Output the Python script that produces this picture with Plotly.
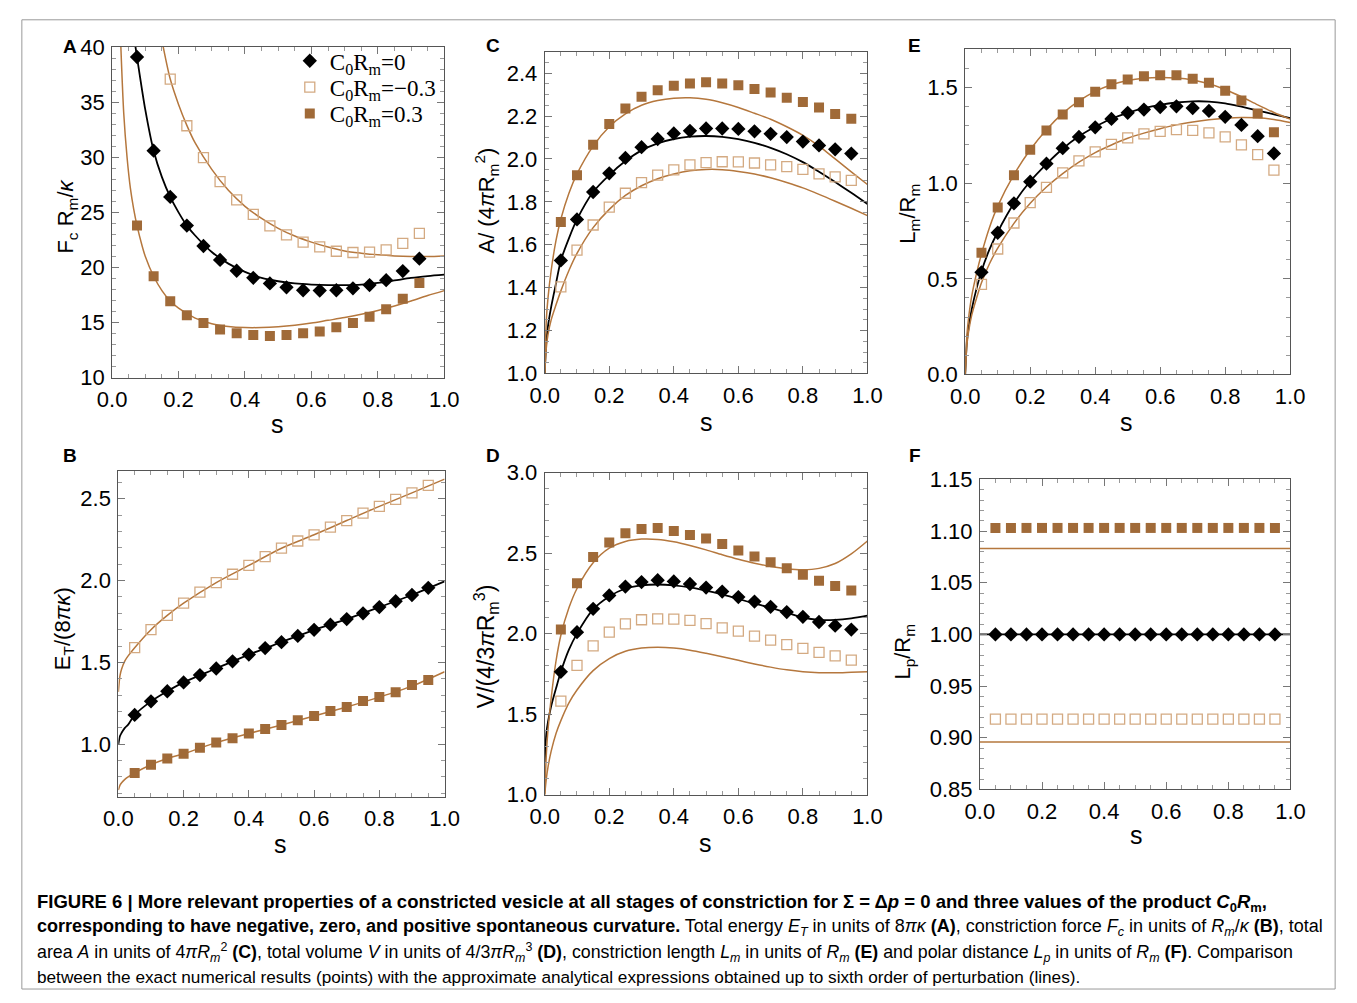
import plotly.graph_objects as go

W, H = 1357, 1003

# ---------------- data ----------------
S19 = [0.05, 0.10, 0.15, 0.20, 0.25, 0.30, 0.35, 0.40, 0.45, 0.50,
       0.55, 0.60, 0.65, 0.70, 0.75, 0.80, 0.85, 0.90, 0.95]
S18 = [0.075, 0.125, 0.175, 0.225, 0.275, 0.325, 0.375, 0.425, 0.475,
       0.525, 0.575, 0.625, 0.675, 0.725, 0.775, 0.825, 0.875, 0.925]

# Panel A : constriction force
A_zero_pts = [39.1, 30.6, 26.4, 23.8, 21.95, 20.68, 19.7, 19.06, 18.55,
              18.2, 17.93, 17.9, 17.93, 18.11, 18.4, 18.85, 19.67, 20.8]
A_neg_s = [0.175, 0.225, 0.275, 0.325, 0.375, 0.425, 0.475, 0.525,
           0.575, 0.625, 0.675, 0.725, 0.775, 0.825, 0.875, 0.925]
A_neg_pts = [37.1, 32.86, 29.97, 27.79, 26.14, 24.81, 23.78, 22.95,
             22.3, 21.86, 21.47, 21.36, 21.39, 21.6, 22.18, 23.1]
A_pos_pts = [23.8, 19.2, 16.93, 15.66, 14.96, 14.37, 14.04, 13.86, 13.78,
             13.86, 14.04, 14.19, 14.57, 14.96, 15.52, 16.2, 17.17, 18.58]

A_zero_ls = [0.068, 0.075, 0.1, 0.125, 0.15, 0.175, 0.2, 0.225, 0.25, 0.3, 0.35,
             0.4, 0.45, 0.5, 0.55, 0.6, 0.65, 0.7, 0.75, 0.8, 0.85, 0.9, 0.95, 1.0]
A_zero_lv = [40.5, 39.1, 34.3, 30.6, 28.2, 26.4, 25.0, 23.8, 22.9, 21.4, 20.35,
             19.6, 19.05, 18.75, 18.55, 18.45, 18.4, 18.4, 18.45, 18.6, 18.82,
             19.05, 19.22, 19.35]
A_neg_ls = [0.152, 0.175, 0.2, 0.225, 0.25, 0.3, 0.35, 0.4, 0.45, 0.5, 0.55,
            0.6, 0.65, 0.7, 0.75, 0.8, 0.85, 0.9, 0.95, 1.0]
A_neg_lv = [40.3, 37.1, 34.8, 32.9, 31.3, 28.9, 27.0, 25.55, 24.45, 23.55,
            22.85, 22.3, 21.85, 21.5, 21.3, 21.15, 21.05, 21.0, 21.0, 21.05]
A_pos_ls = [0.026, 0.035, 0.045, 0.055, 0.065, 0.075, 0.09, 0.1, 0.125, 0.15,
            0.175, 0.2, 0.25, 0.3, 0.35, 0.4, 0.45, 0.5, 0.55, 0.6, 0.65, 0.7,
            0.75, 0.8, 0.85, 0.9, 0.95, 1.0]
A_pos_lv = [40.3, 34.0, 30.0, 27.2, 25.3, 23.8, 22.0, 21.0, 19.2, 17.9,
            16.95, 16.3, 15.4, 14.9, 14.65, 14.55, 14.55, 14.62, 14.75, 14.95,
            15.2, 15.45, 15.75, 16.1, 16.5, 16.95, 17.45, 17.9]

# Panel B : total energy
B_zero_pts = [1.179, 1.262, 1.324, 1.378, 1.423, 1.463, 1.507, 1.548, 1.588,
              1.624, 1.662, 1.699, 1.731, 1.765, 1.8, 1.838, 1.874, 1.912, 1.956]
B_neg_pts = [1.59, 1.701, 1.787, 1.862, 1.93, 1.988, 2.039, 2.093, 2.146,
             2.198, 2.242, 2.28, 2.327, 2.367, 2.413, 2.454, 2.496, 2.536, 2.582]
B_pos_pts = [0.825, 0.875, 0.913, 0.942, 0.978, 1.01, 1.036, 1.066, 1.093,
             1.117, 1.147, 1.173, 1.203, 1.228, 1.264, 1.288, 1.318, 1.362, 1.393]
B_ls = [0.0, 0.005, 0.01, 0.02, 0.03, 0.05, 0.1, 0.15, 0.2, 0.3, 0.4, 0.5,
        0.6, 0.7, 0.8, 0.9, 1.0]
B_zero_lv = [1.0, 1.05, 1.07, 1.1, 1.12, 1.179, 1.262, 1.324, 1.378, 1.463,
             1.548, 1.624, 1.699, 1.765, 1.838, 1.912, 1.995]
B_neg_lv = [1.32, 1.42, 1.46, 1.51, 1.54, 1.59, 1.70, 1.787, 1.862, 1.988,
            2.093, 2.198, 2.28, 2.367, 2.454, 2.536, 2.62]
B_pos_lv = [0.72, 0.75, 0.765, 0.785, 0.80, 0.825, 0.875, 0.913, 0.942, 1.01,
            1.066, 1.117, 1.173, 1.228, 1.288, 1.355, 1.443]

# Panel C : total area
C_zero_pts = [1.527, 1.718, 1.846, 1.933, 2.005, 2.055, 2.093, 2.119, 2.131,
              2.142, 2.142, 2.14, 2.129, 2.117, 2.102, 2.081, 2.063, 2.045, 2.025]
C_neg_pts = [1.404, 1.575, 1.692, 1.775, 1.84, 1.89, 1.925, 1.949, 1.972,
             1.983, 1.987, 1.986, 1.981, 1.972, 1.964, 1.951, 1.93, 1.916, 1.9]
C_pos_pts = [1.706, 1.924, 2.066, 2.163, 2.235, 2.29, 2.32, 2.341, 2.352,
             2.357, 2.352, 2.343, 2.326, 2.31, 2.285, 2.266, 2.24, 2.21, 2.187]
CDE_ls = [0.0, 0.005, 0.01, 0.02, 0.035, 0.05, 0.075, 0.1, 0.15, 0.2, 0.25,
          0.3, 0.35, 0.4, 0.45, 0.5, 0.55, 0.6, 0.65, 0.7, 0.75, 0.8, 0.85,
          0.9, 0.95, 1.0]
C_pos_lv = [1.0, 1.25, 1.35, 1.48, 1.62, 1.72, 1.84, 1.93, 2.06, 2.15, 2.21,
            2.25, 2.272, 2.283, 2.285, 2.278, 2.262, 2.24, 2.213, 2.185, 2.15,
            2.11, 2.06, 2.0, 1.94, 1.881]
C_zero_lv = [1.0, 1.15, 1.22, 1.31, 1.42, 1.527, 1.63, 1.718, 1.846, 1.925,
             1.99, 2.04, 2.073, 2.093, 2.104, 2.107, 2.103, 2.092, 2.075, 2.052,
             2.022, 1.985, 1.94, 1.892, 1.842, 1.79]
C_neg_lv = [1.0, 1.12, 1.18, 1.25, 1.32, 1.385, 1.48, 1.56, 1.68, 1.765, 1.83,
            1.875, 1.908, 1.93, 1.945, 1.951, 1.95, 1.942, 1.93, 1.912, 1.89,
            1.865, 1.835, 1.803, 1.77, 1.736]

# Panel D : total volume
D_zero_pts = [1.763, 2.009, 2.154, 2.237, 2.292, 2.32, 2.332, 2.324, 2.308,
              2.286, 2.261, 2.227, 2.199, 2.166, 2.134, 2.104, 2.072, 2.049, 2.025]
D_neg_pts = [1.581, 1.803, 1.924, 2.009, 2.06, 2.086, 2.092, 2.09, 2.082,
             2.062, 2.035, 2.015, 1.985, 1.959, 1.932, 1.908, 1.884, 1.862, 1.836]
D_pos_pts = [2.025, 2.312, 2.475, 2.566, 2.623, 2.649, 2.655, 2.637, 2.612,
             2.59, 2.556, 2.516, 2.479, 2.443, 2.405, 2.366, 2.328, 2.296, 2.267]
D_pos_lv = [1.0, 1.25, 1.4, 1.6, 1.83, 1.99, 2.16, 2.28, 2.44, 2.53, 2.572,
            2.587, 2.585, 2.57, 2.547, 2.52, 2.49, 2.462, 2.437, 2.417, 2.403,
            2.397, 2.405, 2.435, 2.495, 2.575]
D_zero_lv = [1.2, 1.38, 1.45, 1.55, 1.66, 1.763, 1.9, 2.0, 2.15, 2.23, 2.28,
             2.30, 2.305, 2.30, 2.287, 2.267, 2.243, 2.215, 2.187, 2.16, 2.13,
             2.1, 2.085, 2.085, 2.095, 2.112]
D_neg_lv = [1.0, 1.1, 1.17, 1.27, 1.38, 1.46, 1.57, 1.65, 1.77, 1.845, 1.89,
            1.91, 1.915, 1.91, 1.897, 1.878, 1.857, 1.834, 1.812, 1.792, 1.775,
            1.763, 1.757, 1.757, 1.76, 1.763]

# Panel E : constriction length
E_zero_pts = [0.534, 0.741, 0.895, 1.008, 1.102, 1.183, 1.242, 1.292, 1.336,
              1.368, 1.385, 1.398, 1.402, 1.393, 1.378, 1.347, 1.305, 1.246, 1.156]
E_neg_pts = [0.471, 0.656, 0.792, 0.898, 0.978, 1.054, 1.117, 1.164, 1.203,
             1.237, 1.258, 1.271, 1.28, 1.276, 1.263, 1.242, 1.2, 1.149, 1.068]
E_pos_pts = [0.636, 0.873, 1.042, 1.175, 1.276, 1.359, 1.424, 1.478, 1.517,
             1.542, 1.559, 1.564, 1.564, 1.546, 1.525, 1.483, 1.432, 1.364, 1.266]
E_pos_lv = [0.0, 0.2, 0.29, 0.41, 0.53, 0.63, 0.77, 0.88, 1.045, 1.175, 1.28,
            1.365, 1.43, 1.48, 1.515, 1.537, 1.549, 1.553, 1.55, 1.54, 1.52,
            1.49, 1.452, 1.41, 1.37, 1.335]
E_zero_lv = [0.0, 0.17, 0.24, 0.34, 0.45, 0.54, 0.655, 0.745, 0.895, 1.01,
             1.1, 1.18, 1.245, 1.295, 1.337, 1.368, 1.392, 1.41, 1.422, 1.428,
             1.427, 1.418, 1.4, 1.38, 1.36, 1.34]
E_neg_lv = [0.0, 0.15, 0.22, 0.31, 0.4, 0.48, 0.58, 0.66, 0.79, 0.895, 0.98,
            1.05, 1.11, 1.16, 1.2, 1.235, 1.262, 1.285, 1.305, 1.32, 1.332,
            1.34, 1.344, 1.342, 1.333, 1.317]

# Panel F : polar distance
F_zero_pts = [1.0] * 19
F_neg_pts = [0.918] * 19
F_pos_pts = [1.103] * 19
F_ls = [0.0, 1.0]
F_zero_lv = [1.0, 1.0]
F_neg_lv = [0.896, 0.896]
F_pos_lv = [1.083, 1.083]

# ---------------- styling ----------------
BLACK = "#000000"
LINE_BROWN = "#B5773D"
FILL_BROWN = "#A06A38"
OPEN_TAN = "#D4AA82"
FONT = "Liberation Sans, Arial, sans-serif"
SERIF = "Liberation Serif, Times New Roman, serif"

# plot area boxes in pixels: (left, right, top, bottom)
BOX = {
    1: (99.3, 439.0, 36.0, 375.0),      # A
    2: (105.7, 439.3, 470.7, 805.0),    # B
    3: (541.7, 871.7, 40.7, 370.7),     # C
    4: (541.7, 871.7, 472.3, 802.7),    # D
    5: (971.7, 1304.0, 38.3, 371.7),    # E
    6: (986.7, 1304.3, 479.3, 797.3),   # F
}
YRANGE = {1: [10, 40], 2: [0.678, 2.67], 3: [1.0, 2.5], 4: [1.0, 3.0],
          5: [0.0, 1.7], 6: [0.85, 1.15]}
YTICK = {1: (10, 5, 1, ".0f"), 2: (1.0, 0.5, 0.1, ".1f"), 3: (1.0, 0.2, 0.05, ".1f"),
         4: (1.0, 0.5, 0.1, ".1f"), 5: (0.0, 0.5, 0.1, ".1f"), 6: (0.85, 0.05, 0.01, ".2f")}

fig = go.Figure()


def ax(i):
    return ("x" if i == 1 else f"x{i}"), ("y" if i == 1 else f"y{i}")


def add_line(i, s, v, color, width):
    xa, ya = ax(i)
    fig.add_trace(go.Scatter(x=s, y=v, mode="lines", xaxis=xa, yaxis=ya,
                             line=dict(color=color, width=width, shape="spline",
                                       smoothing=0.8),
                             showlegend=False, hoverinfo="skip"))


def add_pts(i, s, v, kind, legend=None):
    xa, ya = ax(i)
    if kind == "zero":
        mk = dict(symbol="diamond", size=11, color=BLACK)
        name = "C<sub>0</sub>R<sub>m</sub>=0"
    elif kind == "neg":
        mk = dict(symbol="square-open", size=10, color=OPEN_TAN,
                  line=dict(color=OPEN_TAN, width=1.3))
        name = "C<sub>0</sub>R<sub>m</sub>=\u22120.3"
    else:
        mk = dict(symbol="square", size=10, color=FILL_BROWN)
        name = "C<sub>0</sub>R<sub>m</sub>=0.3"
    kw = dict(showlegend=False)
    if legend:
        kw = dict(showlegend=True, legend=legend)
    fig.add_trace(go.Scatter(x=s, y=v, mode="markers", xaxis=xa, yaxis=ya,
                             marker=mk, name=name, **kw))


# lines
add_line(1, A_zero_ls, A_zero_lv, BLACK, 1.8)
add_line(1, A_neg_ls, A_neg_lv, LINE_BROWN, 1.5)
add_line(1, A_pos_ls, A_pos_lv, LINE_BROWN, 1.5)
add_line(2, B_ls, B_zero_lv, BLACK, 1.8)
add_line(2, B_ls, B_neg_lv, LINE_BROWN, 1.5)
add_line(2, B_ls, B_pos_lv, LINE_BROWN, 1.5)
add_line(3, CDE_ls, C_zero_lv, BLACK, 1.8)
add_line(3, CDE_ls, C_neg_lv, LINE_BROWN, 1.5)
add_line(3, CDE_ls, C_pos_lv, LINE_BROWN, 1.5)
add_line(4, CDE_ls, D_zero_lv, BLACK, 1.8)
add_line(4, CDE_ls, D_neg_lv, LINE_BROWN, 1.5)
add_line(4, CDE_ls, D_pos_lv, LINE_BROWN, 1.5)
add_line(5, CDE_ls, E_zero_lv, BLACK, 1.8)
add_line(5, CDE_ls, E_neg_lv, LINE_BROWN, 1.5)
add_line(5, CDE_ls, E_pos_lv, LINE_BROWN, 1.5)
add_line(6, F_ls, F_zero_lv, BLACK, 1.8)
add_line(6, F_ls, F_neg_lv, LINE_BROWN, 1.5)
add_line(6, F_ls, F_pos_lv, LINE_BROWN, 1.5)

# points
add_pts(1, S18, A_zero_pts, "zero", legend="legend")
add_pts(1, A_neg_s, A_neg_pts, "neg", legend="legend2")
add_pts(1, S18, A_pos_pts, "pos", legend="legend3")
for i, (z, n, p) in {2: (B_zero_pts, B_neg_pts, B_pos_pts),
                     3: (C_zero_pts, C_neg_pts, C_pos_pts),
                     4: (D_zero_pts, D_neg_pts, D_pos_pts),
                     5: (E_zero_pts, E_neg_pts, E_pos_pts),
                     6: (F_zero_pts, F_neg_pts, F_pos_pts)}.items():
    add_pts(i, S19, n, "neg")
    add_pts(i, S19, p, "pos")
    add_pts(i, S19, z, "zero")

layout = {}
for i, (l, r, t, b) in BOX.items():
    xk = "xaxis" if i == 1 else f"xaxis{i}"
    yk = "yaxis" if i == 1 else f"yaxis{i}"
    x0, dt, mdt, fmt = YTICK[i]
    layout[xk] = dict(domain=[l / W, r / W], range=[0, 1], anchor=ax(i)[1],
                      showline=True, linecolor="#555", linewidth=1, mirror="allticks",
                      ticks="inside", ticklen=7, tickcolor="#777", tickwidth=1,
                      tick0=0, dtick=0.2, tickformat=".1f",
                      minor=dict(ticks="inside", ticklen=4, dtick=0.05, tickcolor="#999"),
                      showgrid=False, zeroline=False, ticklabelstandoff=2,
                      tickfont=dict(family=FONT, size=22, color="black"))
    layout[yk] = dict(domain=[1 - b / H, 1 - t / H], range=YRANGE[i], anchor=ax(i)[0],
                      showline=True, linecolor="#555", linewidth=1, mirror="allticks",
                      ticks="inside", ticklen=7, tickcolor="#777", tickwidth=1,
                      tick0=x0, dtick=dt, tickformat=fmt,
                      minor=dict(ticks="inside", ticklen=4, dtick=mdt, tickcolor="#999"),
                      showgrid=False, zeroline=False, ticklabelstandoff=2,
                      tickfont=dict(family=FONT, size=22, color="black"))

annos = []


def txt(x, y, text, size=20, angle=0, family=FONT, xanchor="center"):
    annos.append(dict(x=x / W, y=1 - y / H, xref="paper", yref="paper", text=text,
                      showarrow=False, textangle=angle, xanchor=xanchor, yanchor="middle",
                      font=dict(family=family, size=size, color="black")))


# panel letters
for letter, (x, y) in {"A": (56, 35), "B": (56, 455), "C": (489, 34),
                       "D": (489, 455), "E": (920, 34), "F": (920, 455)}.items():
    txt(x, y, f"<b>{letter}</b>", size=19)

# x titles
for (x, y) in [(268, 423), (707, 420), (1137, 420), (272, 853), (706, 852), (1147, 844)]:
    txt(x, y, "s", size=25)

# y titles
txt(53, 210, "F<sub>c</sub> R<sub>m</sub>/<i>\u03ba</i>", size=22, angle=-90)
txt(482, 193, "A/ (4<i>\u03c0</i>R<sub>m</sub><sup>2</sup>)", size=22, angle=-90)
txt(914, 207, "L<sub>m</sub>/R<sub>m</sub>", size=22, angle=-90)
txt(50, 632, "E<sub>T</sub>/(8<i>\u03c0\u03ba</i>)", size=22, angle=-90)
txt(481, 651, "V/(4/3<i>\u03c0</i>R<sub>m</sub><sup>3</sup>)", size=23, angle=-90)
txt(909, 656, "L<sub>p</sub>/R<sub>m</sub>", size=22, angle=-90)

# caption
cap = [
    "<b>FIGURE 6 | More relevant properties of a constricted vesicle at all stages of constriction for "
    "\u03a3 = \u0394<i>p</i> = 0 and three values of the product <i>C</i><sub>0</sub><i>R</i><sub>m</sub>,</b>",
    "<b>corresponding to have negative, zero, and positive spontaneous curvature.</b> Total energy "
    "<i>E<sub>T</sub></i> in units of 8<i>\u03c0\u03ba</i> <b>(A)</b>, constriction force <i>F<sub>c</sub></i> "
    "in units of <i>R<sub>m</sub></i>/<i>\u03ba</i> <b>(B)</b>, total",
    "area <i>A</i> in units of 4<i>\u03c0R<sub>m</sub></i><sup>2</sup> <b>(C)</b>, total volume <i>V</i> in units of "
    "4/3<i>\u03c0R<sub>m</sub></i><sup>3</sup> <b>(D)</b>, constriction length <i>L<sub>m</sub></i> in units of "
    "<i>R<sub>m</sub></i> <b>(E)</b> and polar distance <i>L<sub>p</sub></i> in units of <i>R<sub>m</sub></i> "
    "<b>(F)</b>. Comparison",
    "between the exact numerical results (points) with the approximate analytical expressions obtained "
    "up to sixth order of perturbation (lines).",
]
cap_sizes = [18.5, 18, 17.8, 17.2]
for k, line in enumerate(cap):
    txt(20, 914 + 25.3 * k, line, size=cap_sizes[k], xanchor="left")


def leg(top):
    return dict(x=281 / W, y=1 - top / H, xanchor="left", yanchor="top",
                bgcolor="rgba(0,0,0,0)", font=dict(family=SERIF, size=23, color="black"),
                itemwidth=30)


fig.update_layout(
    width=W, height=H, margin=dict(l=0, r=0, t=0, b=0),
    paper_bgcolor="white", plot_bgcolor="white",
    annotations=annos,
    shapes=[dict(type="rect", xref="paper", yref="paper", x0=7 / W, x1=1350 / W,
                 y0=1 - 1002 / H, y1=1 - 8 / H, line=dict(color="#999", width=1))],
    legend=leg(28), legend2=leg(55), legend3=leg(82),
    **layout,
)

fig.write_html(
    "out.html",
    post_script=(
        "document.documentElement.style.margin='0';"
        "document.documentElement.style.padding='0';"
        "document.documentElement.style.overflow='hidden';"
        "document.body.style.margin='0';"
        "document.body.style.padding='0';"
        "document.body.style.overflow='hidden';"
        "var gd=document.getElementById('{plot_id}');"
        "gd.style.position='absolute';gd.style.left='0px';gd.style.top='0px';"
    ),
)
